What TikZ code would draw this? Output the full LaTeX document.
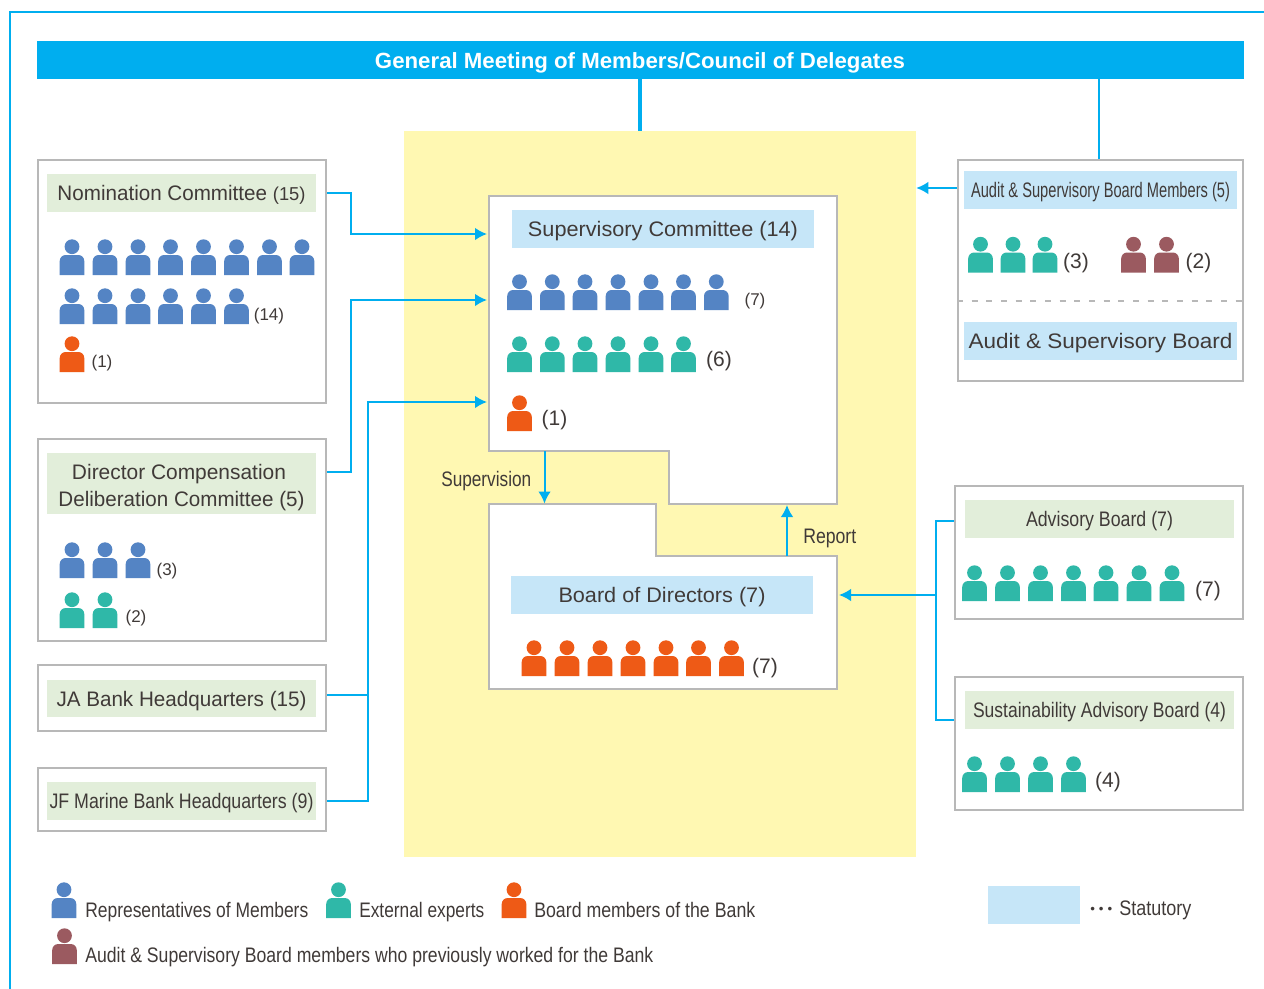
\documentclass[tikz,border=0pt]{standalone}
\usepackage{fontspec}
\usepackage{graphicx}
\setmainfont{Liberation Sans}
\usetikzlibrary{arrows.meta,positioning}
\definecolor{linkblue}{HTML}{00AEEF}
\definecolor{edgegrey}{HTML}{B8B8B8}
\definecolor{inkgrey}{HTML}{403A38}
\definecolor{yellowbg}{HTML}{FFF8B2}
\definecolor{statblue}{HTML}{C6E6F8}
\definecolor{leafgreen}{HTML}{E2EEDA}
\definecolor{memberblue}{HTML}{5484C4}
\definecolor{experteal}{HTML}{2FB8A8}
\definecolor{bankorange}{HTML}{EE5A16}
\definecolor{auditred}{HTML}{9B5A60}
\newdimen\ux
\ux=0.75pt
\newcommand{\Fw}[2]{\resizebox{#1\ux}{\height}{#2}}
\newcommand{\Wd}[2]{\raisebox{-2.2\ux}[\height][\depth]{\Fw{#1}{#2}}}
\newcommand{\People}[3]{\foreach \cx in {#3} \pic[color=#1] at (\cx,#2) {person};}
\tikzset{
  person/.pic={
    \fill (0,-28.3) circle (7.4);
    \fill (-12.3,0) [rounded corners=4.5pt] -- (-12.3,-20) -- (12.3,-20) [sharp corners] -- (12.3,0) -- cycle;
  },
  greybox/.style 2 args={draw=edgegrey,line width=1.5pt,fill=white,inner sep=0pt,minimum width=#1*\ux,minimum height=#2*\ux},
  statbox/.style 2 args={fill=statblue,text=inkgrey,font=\fontsize{15.75}{20}\selectfont,inner sep=0pt,align=center,minimum width=#1*\ux,minimum height=#2*\ux},
  leafbox/.style 2 args={statbox={#1}{#2},fill=leafgreen},
  txt/.style={text=inkgrey,font=\fontsize{15.75}{19}\selectfont,inner sep=0pt},
  cnt/.style={txt,font=\fontsize{12.75}{15}\selectfont},
  link/.style={draw=linkblue,line width=1.5pt},
  head/.style={link,-{Latex[length=9pt,width=9.5pt]}},
}
\begin{document}
\begin{tikzpicture}[x=0.75pt,y=-0.75pt]
\useasboundingbox (0,0) rectangle (1264,989);
\coordinate (framebot) at (10,989);
\coordinate (frametop) at (10,12);
\coordinate (frameend) at (1264,12);
\draw[link] (framebot) -- (frametop) -- (frameend);
% top bar and yellow field
\node[fill=linkblue,inner sep=0pt,minimum width=1207*\ux,minimum height=38*\ux] (meeting) at (640.5,60) {};
\node[text=white,inner sep=0pt,font=\fontsize{16.5}{20}\selectfont\bfseries] (meetingtxt) at (640,61) {\Wd{530}{General Meeting of Members/Council of Delegates}};
\node[fill=yellowbg,inner sep=0pt,minimum width=512*\ux,minimum height=726*\ux] (field) at (660,494) {};
\draw[link,line width=3pt] (meeting.south -| 639.5,0) -- (field.north -| 639.5,0);
% supervisory committee and board of directors
\draw[edgegrey,line width=1.5pt,fill=white] (489,196) -- (837,196) -- (837,504) -- (669,504) -- (669,451) -- (489,451) -- cycle;
\draw[edgegrey,line width=1.5pt,fill=white] (489,504) -- (656,504) -- (656,556) -- (837,556) -- (837,689) -- (489,689) -- cycle;
\coordinate (supin1) at (487,234);
\coordinate (supin2) at (487,300);
\coordinate (supin3) at (487,402);
\coordinate (supout) at (544.5,451);
\coordinate (bodin) at (544.5,503.5);
\coordinate (bodout) at (787,556);
\coordinate (supback) at (787,505);
\coordinate (bodright) at (839,595);
\node[statbox={302}{38}] (suplabel) at (663,229) {\Wd{270}{Supervisory Committee (14)}};
\node[statbox={302}{38}] (bodlabel) at (662,595) {\Wd{207}{Board of Directors (7)}};
\People{memberblue}{310}{519.5,552.3,585,618,651,683.5,716.3}
\People{experteal}{372}{519.5,552.3,585,618,651,683.5}
\People{bankorange}{431}{519.5}
\People{bankorange}{676}{534,567,600,633,666,698.5,731.5}
\node[cnt] (supn1) at (755,301) {(7)};
\node[txt] (supn2) at (719,361.5) {(6)};
\node[txt] (supn3) at (554.5,420.5) {(1)};
\node[txt] (bodn) at (765,668.5) {(7)};
\draw[head] (supout) -- (bodin);
\draw[head] (bodout) -- (supback);
\node[txt,anchor=base west] (suptxt) at (441,486) {\Fw{90}{Supervision}};
\node[txt,anchor=base west] (reptxt) at (803,543) {\Fw{53}{Report}};
% left column
\node[greybox={288}{243}] (nombox) at (182,281.5) {};
\node[leafbox={269}{38}] (nomlabel) at (181.5,193) {\Wd{248}{Nomination Committee {\fontsize{14}{16}\selectfont(15)}}};
\People{memberblue}{275}{72,105,138,170.5,203.5,236.5,269.5,302}
\People{memberblue}{324}{72,105,138,170.5,203.5,236.5}
\People{bankorange}{372}{72}
\node[cnt] (nomn1) at (269,316) {(14)};
\node[cnt] (nomn2) at (102,363) {(1)};
\node[greybox={288}{202}] (dirbox) at (182,540) {};
\node[leafbox={269}{61}] (dirlabel) at (181.5,483.5) {\raisebox{-2\ux}[\height][\depth]{\hspace*{-5\ux}\Wd{214}{Director Compensation}}\\\raisebox{-2\ux}[\height][\depth]{\Wd{246}{Deliberation Committee (5)}}};
\People{memberblue}{578}{72,105,138}
\People{experteal}{628}{72,105}
\node[cnt] (dirn1) at (167,571) {(3)};
\node[cnt] (dirn2) at (136,618) {(2)};
\node[greybox={288}{66}] (jabox) at (182,698) {};
\node[leafbox={269}{37}] (jalabel) at (181.5,698.5) {\Wd{250}{JA Bank Headquarters (15)}};
\node[greybox={288}{63}] (jfbox) at (182,799.5) {};
\node[leafbox={269}{38}] (jflabel) at (181.5,801) {\Wd{264}{JF Marine Bank Headquarters (9)}};
\draw[head] (nombox.east |- nomlabel) -| (351,234) -- (supin1);
\draw[head] (dirbox.east |- 0,472) -| (351,300) -- (supin2);
\draw[link] (jabox.east |- 0,695) -- (368,695);
\draw[head] (jfbox.east |- jflabel) -| (368,402) -- (supin3);
% right column
\node[greybox={285}{221}] (audbox) at (1100.5,270.5) {};
\node[statbox={273}{38}] (audlabel) at (1100.5,190) {\Wd{259}{Audit \& Supervisory Board Members (5)}};
\node[statbox={273}{38}] (abdlabel) at (1100.5,341) {\Wd{264}{Audit \& Supervisory Board}};
\People{experteal}{272.5}{980.5,1013,1045}
\People{auditred}{272.5}{1133.5,1166.5}
\node[txt] (audn1) at (1076,263.5) {(3)};
\node[txt] (audn2) at (1198.5,263.5) {(2)};
\draw[edgegrey,line width=1.2pt,dash pattern=on 4.5pt off 6.5pt] (audbox.west |- 0,300.7) -- (audbox.east |- 0,300.7);
\draw[link] (meeting.south -| 1099,0) -- (audbox.north -| 1099,0);
\draw[head] (audbox.west |- 0,188) -- (field.east |- 0,188);
\node[greybox={288}{133}] (advbox) at (1099,552.5) {};
\node[leafbox={269}{38}] (advlabel) at (1099.5,519) {\Wd{147}{Advisory Board (7)}};
\People{experteal}{601}{974.5,1007.5,1040.5,1073.5,1106,1139,1172}
\node[txt] (advn) at (1208,591.5) {(7)};
\node[greybox={288}{133}] (susbox) at (1099,743.5) {};
\node[leafbox={269}{38}] (suslabel) at (1099.5,710) {\Wd{253}{Sustainability Advisory Board (4)}};
\People{experteal}{792}{974.5,1007.5,1040.5,1073.5}
\node[txt] (susn) at (1108,782.5) {(4)};
\coordinate (advjoin) at (936,595);
\draw[link] (advbox.west |- 0,521) -| (advjoin) |- (susbox.west |- 0,720);
\draw[head] (advjoin) -- (bodright);
% legend
\People{memberblue}{918}{64}
\node[txt,anchor=base west] (legmember) at (85,917.5) {\Fw{223}{Representatives of Members}};
\People{experteal}{918}{338.5}
\node[txt,anchor=base west] (legexpert) at (359,917.5) {\Fw{125}{External experts}};
\People{bankorange}{918}{514}
\node[txt,anchor=base west] (legbank) at (534,917.5) {\Fw{221}{Board members of the Bank}};
\People{auditred}{964}{64.5}
\node[txt,anchor=base west] (legaudit) at (85,962.5) {\Fw{568}{Audit \& Supervisory Board members who previously worked for the Bank}};
\node[fill=statblue,inner sep=0pt,minimum width=92*\ux,minimum height=38*\ux] (legstat) at (1034,905) {};
\node[txt,anchor=base west] (legstattxt) at (1090,915.5) {\raisebox{1.5pt}{\fontsize{10}{12}\selectfont•\hspace{3pt}•\hspace{3pt}•}\hspace{5.25pt}\Fw{72}{Statutory}};
\end{tikzpicture}
\end{document}
